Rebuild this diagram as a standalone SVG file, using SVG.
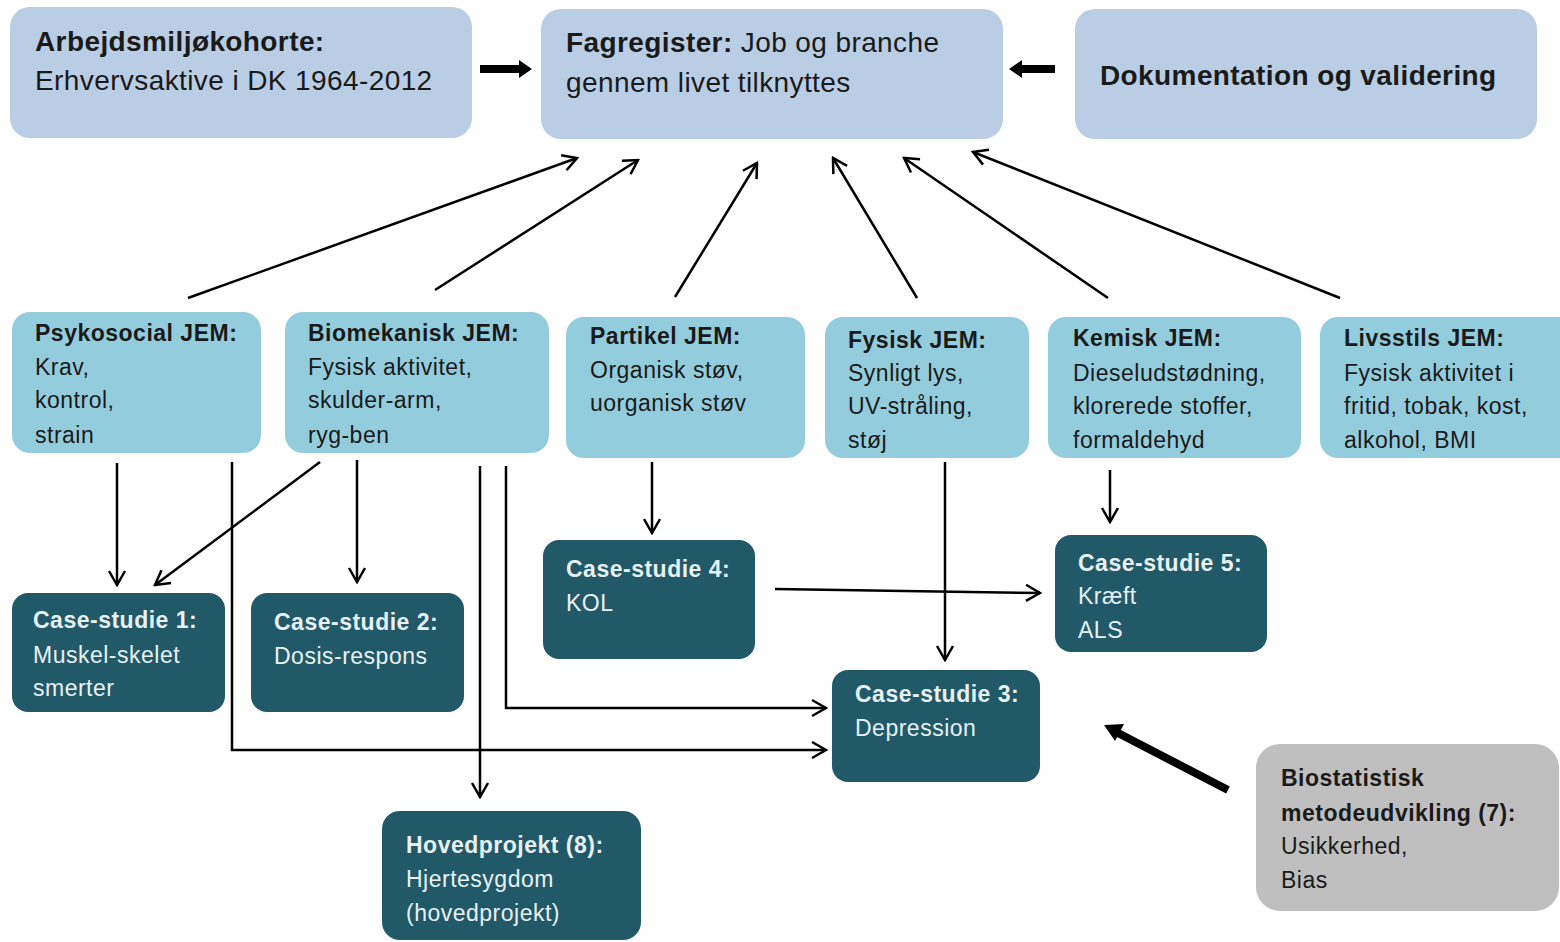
<svg xmlns="http://www.w3.org/2000/svg" width="1560" height="942" viewBox="0 0 1560 942">
<defs>
<style>
text{font-family:"Liberation Sans",Arial,sans-serif;}
.top{fill:#b9cde4;}
.jem{fill:#93cddd;}
.cs{fill:#215968;}
.bio{fill:#bfbfbf;}
.tt{font-size:28px;fill:#1a1a1a;letter-spacing:0.4px;}
.jt{font-size:23px;fill:#1a1a1a;letter-spacing:0.5px;}
.ct{font-size:23px;fill:#e8f1f4;letter-spacing:0.5px;}
.b{font-weight:bold;}
.ln{fill:none;stroke:#000;stroke-width:2.5;}
</style>
<marker id="ah" viewBox="0 0 20 20" refX="18" refY="10" markerWidth="20" markerHeight="20" markerUnits="userSpaceOnUse" orient="auto">
<path d="M4,2 L18,10 L4,18" fill="none" stroke="#000" stroke-width="2.5"/>
</marker>
</defs>
<rect width="1560" height="942" fill="#ffffff"/>

<g id="connectors">
<path class="ln" d="M188,298 L577,158" marker-end="url(#ah)"/>
<path class="ln" d="M435,290 L638,160" marker-end="url(#ah)"/>
<path class="ln" d="M675,297 L757,163" marker-end="url(#ah)"/>
<path class="ln" d="M917,298 L833,158" marker-end="url(#ah)"/>
<path class="ln" d="M1108,298 L904,158" marker-end="url(#ah)"/>
<path class="ln" d="M1340,298 L973,152" marker-end="url(#ah)"/>
<path class="ln" d="M117,463 L117,585" marker-end="url(#ah)"/>
<path class="ln" d="M320,462 L155,585" marker-end="url(#ah)"/>
<path class="ln" d="M357,460 L357,582" marker-end="url(#ah)"/>
<path class="ln" d="M232,462 L232,750 L826,750" marker-end="url(#ah)"/>
<path class="ln" d="M480,466 L480,797" marker-end="url(#ah)"/>
<path class="ln" d="M506,466 L506,708 L826,708" marker-end="url(#ah)"/>
<path class="ln" d="M652,462 L652,533" marker-end="url(#ah)"/>
<path class="ln" d="M945,462 L945,660" marker-end="url(#ah)"/>
<path class="ln" d="M1110,470 L1110,522" marker-end="url(#ah)"/>
<path class="ln" d="M775,589 L1040,593" marker-end="url(#ah)"/>
<path d="M480,65 L519,65 L519,60 L532,69 L519,78 L519,73 L480,73 Z" fill="#000"/>
<path d="M1055,65 L1022,65 L1022,60 L1009,69 L1022,78 L1022,73 L1055,73 Z" fill="#000"/>
<path d="M1228,790 L1118,733" stroke="#000" stroke-width="8" fill="none"/>
<path d="M1104,725 L1124,724 L1115,741 Z" fill="#000"/>
</g>

<g id="n-kohorte">
<rect class="top" x="10" y="7" width="462" height="131" rx="20"/>
<text class="tt" x="35" y="51"><tspan class="b">Arbejdsmiljøkohorte:</tspan></text>
<text class="tt" x="35" y="90">Erhvervsaktive i DK 1964-2012</text>
</g>
<g id="n-fagregister">
<rect class="top" x="541" y="9" width="462" height="130" rx="20"/>
<text class="tt" x="566" y="52"><tspan class="b">Fagregister:</tspan> Job og branche</text>
<text class="tt" x="566" y="92">gennem livet tilknyttes</text>
</g>
<g id="n-dok">
<rect class="top" x="1075" y="9" width="462" height="130" rx="20"/>
<text class="tt b" x="1100" y="85">Dokumentation og validering</text>
</g>

<g id="n-psyk">
<rect class="jem" x="12" y="312" width="249" height="141" rx="18"/>
<text class="jt" x="35" y="341"><tspan class="b">Psykosocial JEM:</tspan><tspan x="35" dy="34">Krav,</tspan><tspan x="35" dy="33">kontrol,</tspan><tspan x="35" dy="35">strain</tspan></text>
</g>
<g id="n-biomek">
<rect class="jem" x="285" y="312" width="264" height="141" rx="18"/>
<text class="jt" x="308" y="341"><tspan class="b">Biomekanisk JEM:</tspan><tspan x="308" dy="34">Fysisk aktivitet,</tspan><tspan x="308" dy="33">skulder-arm,</tspan><tspan x="308" dy="35">ryg-ben</tspan></text>
</g>
<g id="n-partikel">
<rect class="jem" x="566" y="317" width="239" height="141" rx="18"/>
<text class="jt" x="590" y="344"><tspan class="b">Partikel JEM:</tspan><tspan x="590" dy="34">Organisk støv,</tspan><tspan x="590" dy="33">uorganisk støv</tspan></text>
</g>
<g id="n-fysisk">
<rect class="jem" x="825" y="317" width="204" height="141" rx="18"/>
<text class="jt" x="848" y="348"><tspan class="b">Fysisk JEM:</tspan><tspan x="848" dy="33">Synligt lys,</tspan><tspan x="848" dy="33">UV-stråling,</tspan><tspan x="848" dy="34">støj</tspan></text>
</g>
<g id="n-kemisk">
<rect class="jem" x="1048" y="317" width="253" height="141" rx="18"/>
<text class="jt" x="1073" y="346"><tspan class="b">Kemisk JEM:</tspan><tspan x="1073" dy="35">Dieseludstødning,</tspan><tspan x="1073" dy="33">klorerede  stoffer,</tspan><tspan x="1073" dy="34">formaldehyd</tspan></text>
</g>
<g id="n-livsstil">
<rect class="jem" x="1320" y="317" width="260" height="141" rx="18"/>
<text class="jt" x="1344" y="346"><tspan class="b">Livsstils JEM:</tspan><tspan x="1344" dy="35">Fysisk aktivitet i</tspan><tspan x="1344" dy="33">fritid, tobak, kost,</tspan><tspan x="1344" dy="34">alkohol,  BMI</tspan></text>
</g>

<g id="n-cs1">
<rect class="cs" x="12" y="593" width="213" height="119" rx="16"/>
<text class="ct" x="33" y="628"><tspan class="b">Case-studie 1:</tspan><tspan x="33" dy="35">Muskel-skelet</tspan><tspan x="33" dy="33">smerter</tspan></text>
</g>
<g id="n-cs2">
<rect class="cs" x="251" y="593" width="213" height="119" rx="16"/>
<text class="ct" x="274" y="630"><tspan class="b">Case-studie 2:</tspan><tspan x="274" dy="34">Dosis-respons</tspan></text>
</g>
<g id="n-cs4">
<rect class="cs" x="543" y="540" width="212" height="119" rx="16"/>
<text class="ct" x="566" y="577"><tspan class="b">Case-studie 4:</tspan><tspan x="566" dy="34">KOL</tspan></text>
</g>
<g id="n-cs5">
<rect class="cs" x="1055" y="535" width="212" height="117" rx="16"/>
<text class="ct" x="1078" y="571"><tspan class="b">Case-studie 5:</tspan><tspan x="1078" dy="33">Kræft</tspan><tspan x="1078" dy="34">ALS</tspan></text>
</g>
<g id="n-cs3">
<rect class="cs" x="832" y="670" width="208" height="112" rx="16"/>
<text class="ct" x="855" y="702"><tspan class="b">Case-studie 3:</tspan><tspan x="855" dy="34">Depression</tspan></text>
</g>
<g id="n-hoved">
<rect class="cs" x="382" y="811" width="259" height="129" rx="18"/>
<text class="ct" x="406" y="853"><tspan class="b">Hovedprojekt (8):</tspan><tspan x="406" dy="34">Hjertesygdom</tspan><tspan x="406" dy="34">(hovedprojekt)</tspan></text>
</g>
<g id="n-bio">
<rect class="bio" x="1256" y="744" width="303" height="167" rx="24"/>
<text class="jt" x="1281" y="786"><tspan class="b">Biostatistisk</tspan><tspan class="b" x="1281" dy="35">metodeudvikling (7):</tspan><tspan x="1281" dy="33">Usikkerhed,</tspan><tspan x="1281" dy="34">Bias</tspan></text>
</g>
</svg>
